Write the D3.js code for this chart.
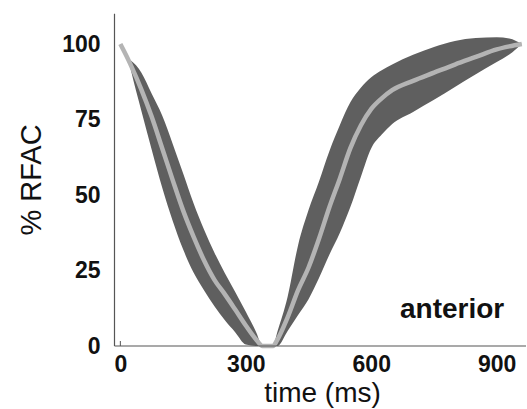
<!DOCTYPE html>
<html>
<head>
<meta charset="utf-8">
<script src="https://cdn.jsdelivr.net/npm/d3@7"></script>
<style>
  html, body { margin: 0; padding: 0; background: #ffffff; }
  svg { display: block; }
  text { font-family: "Liberation Sans", Arial, Helvetica, sans-serif; fill: #111; }
</style>
</head>
<body>
<svg id="chart" width="527" height="409"></svg>
<script>
// Relative fractional area change over one cycle (anterior segment)
const timeMs = [0, 20, 25, 50, 75, 100, 125, 150, 175, 200, 225, 250, 275, 300, 325, 340,
                365, 375, 400, 425, 450, 475, 500, 525, 550, 575, 600, 625, 650, 700, 750,
                800, 850, 900, 930, 960];
const meanRFAC = [100, 94.5, 93, 85, 75.9, 65.5, 55, 44.9, 36.2, 28.4, 21.9, 17.1, 12, 6.8, 2.1, 0,
                  0, 2, 9.5, 18.5, 26, 35.5, 46, 55.5, 65.5, 73, 78.5, 82, 84.7, 87.8, 90.5,
                  93.2, 95.7, 98.2, 99.2, 100];
const upperRFAC = [100, 95, 94.5, 90.6, 83.5, 76.3, 67, 57.2, 47.3, 38.6, 30.9, 24.1, 17.8, 11.3, 4.5, 0,
                   0, 4.5, 16.3, 33.4, 45, 54.5, 64.6, 73.2, 80.7, 85.5, 89, 91.3, 93.2, 96.4, 99,
                   101, 102, 102.2, 101.8, 100];
const lowerRFAC = [100, 94.5, 91.5, 78, 65, 52.5, 41.5, 32, 24.3, 18.5, 13.2, 8.5, 4.5, 0.5, 0, 0,
                   0, 0, 5, 10.3, 15.5, 22.5, 30.3, 37.5, 46, 56, 65.5, 70, 73.5, 77.5, 81.5,
                   85.8, 90, 94, 96.5, 100];
const xTicks = [0, 300, 600, 900];
const yTicks = [0, 25, 50, 75, 100];
const panelLabel = "anterior";

const svg = d3.select("#chart");

const x = d3.scaleLinear().domain([-14, 970]).range([114.5, 526]);
const y = d3.scaleLinear().domain([0, 110]).range([346, 13.8]);

const rows = timeMs.map((t, i) => ({ t, m: meanRFAC[i], hi: upperRFAC[i], lo: lowerRFAC[i] }));

// spread band
svg.append("path")
  .datum(rows)
  .attr("fill", "#5f5f5f")
  .attr("d", d3.area()
    .x(d => x(d.t))
    .y0(d => y(d.lo))
    .y1(d => y(d.hi))
    .curve(d3.curveMonotoneX));

// mean curve
svg.append("path")
  .datum(rows)
  .attr("fill", "none")
  .attr("stroke", "#b4b4b4")
  .attr("stroke-width", 4.5)
  .attr("d", d3.line()
    .x(d => x(d.t))
    .y(d => y(d.m))
    .curve(d3.curveMonotoneX));

// axis lines
svg.append("line")
  .attr("x1", x(-14)).attr("x2", x(-14))
  .attr("y1", y(110)).attr("y2", y(0))
  .attr("stroke", "#555").attr("stroke-width", 1.2);
svg.append("line")
  .attr("x1", x(-14)).attr("x2", x(970))
  .attr("y1", y(0)).attr("y2", y(0))
  .attr("stroke", "#555").attr("stroke-width", 1.2);
svg.append("line")
  .attr("x1", x(0)).attr("x2", x(0))
  .attr("y1", y(0)).attr("y2", y(0) - 5)
  .attr("stroke", "#555").attr("stroke-width", 1);

// tick labels
const xAxis = svg.append("g")
  .attr("transform", `translate(0,${y(0)})`)
  .call(d3.axisBottom(x).tickValues(xTicks).tickSize(0).tickPadding(10).tickFormat(d3.format("d")));
xAxis.select(".domain").remove();
xAxis.selectAll("text")
  .style("font-family", '"Liberation Sans", Arial, sans-serif')
  .style("font-size", "23px").style("font-weight", "bold").attr("fill", "#111");

const yAxis = svg.append("g")
  .attr("transform", `translate(${x(-14)},0)`)
  .call(d3.axisLeft(y).tickValues(yTicks).tickSize(0).tickPadding(14).tickFormat(d3.format("d")));
yAxis.select(".domain").remove();
yAxis.selectAll("text")
  .style("font-family", '"Liberation Sans", Arial, sans-serif')
  .style("font-size", "23px").style("font-weight", "bold").attr("fill", "#111");

// axis titles
svg.append("text")
  .attr("transform", "translate(41,180) rotate(-90)")
  .attr("text-anchor", "middle")
  .style("font-size", "29px")
  .text("% RFAC");

svg.append("text")
  .attr("x", 322.5).attr("y", 402)
  .attr("text-anchor", "middle")
  .style("font-size", "28px")
  .text("time (ms)");

svg.append("text")
  .attr("x", 400).attr("y", 318)
  .style("font-size", "28px").style("font-weight", "bold")
  .text(panelLabel);
</script>
</body>
</html>
